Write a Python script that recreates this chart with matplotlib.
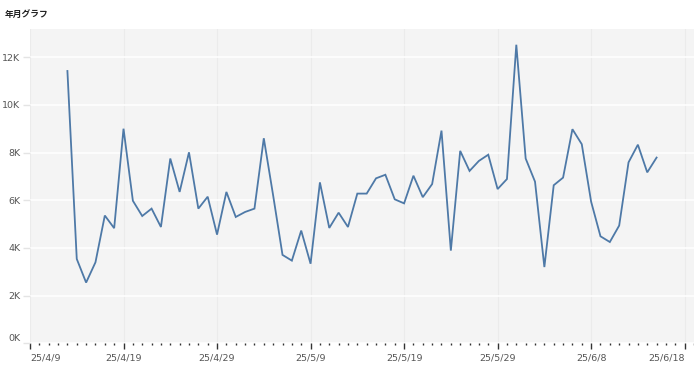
"""Daily line chart (年月グラフ) rebuilt with matplotlib."""

import matplotlib

matplotlib.use("Agg")
import matplotlib.dates as mdates
import matplotlib.pyplot as plt
from matplotlib.ticker import FuncFormatter
import pandas as pd

TITLE = "年月グラフ"
START_DATE = "2025-04-13"
VALUES = [
    11420, 3540, 2550, 3400, 5360, 4830, 9000, 5980, 5340, 5650,
    4880, 7750, 6350, 8010, 5650, 6150, 4560, 6350, 5300, 5510,
    5650, 8600, 6200, 3710, 3470, 4730, 3340, 6750, 4840, 5480,
    4880, 6280, 6280, 6920, 7070, 6040, 5870, 7030, 6130, 6680,
    8920, 3890, 8070, 7230, 7650, 7910, 6470, 6890, 12520, 7750,
    6780, 3200, 6630, 6950, 8980, 8350, 5940, 4490, 4250, 4940,
    7590, 8330, 7170, 7790,
]
Y_TICKS = [0, 2000, 4000, 6000, 8000, 10000, 12000]
X_MAJOR_TICKS = ["2025-04-09", "2025-04-19", "2025-04-29", "2025-05-09",
                 "2025-05-19", "2025-05-29", "2025-06-08", "2025-06-18"]

LINE_COLOR = "#4e79a7"
BG_COLOR = "#f4f4f4"
TEXT_COLOR = "#555555"

W, H = 694, 373


def main() -> None:
    plt.rcParams["font.family"] = ["DejaVu Sans", "Noto Sans CJK JP"]
    dates = pd.date_range(START_DATE, periods=len(VALUES), freq="D")

    fig = plt.figure(figsize=(W / 100, H / 100), dpi=100)
    ax = fig.add_axes([30 / W, (H - 343.4) / H, (W - 30) / W, (343.4 - 29) / H])
    ax.set_facecolor(BG_COLOR)
    for spine in ax.spines.values():
        spine.set_visible(False)

    ax.plot(dates, VALUES, color=LINE_COLOR, linewidth=1.3, solid_joinstyle="miter", zorder=3)

    ax.set_xlim(pd.Timestamp("2025-04-09"), pd.Timestamp("2025-04-09") + pd.Timedelta(days=71))
    ax.set_ylim(0, 13180)

    # y axis
    ax.set_yticks(Y_TICKS)
    ax.yaxis.set_major_formatter(FuncFormatter(lambda v, _: f"{int(round(v / 1000))}K"))
    ax.tick_params(axis="y", length=5, width=1, color="#e4e4e4", pad=2,
                   labelsize=6.8, labelcolor=TEXT_COLOR)
    ax.grid(axis="y", color="white", linewidth=1.1, zorder=1)
    ax.get_yticklabels()[0].set_verticalalignment("bottom")

    # x axis
    major = [pd.Timestamp(d) for d in X_MAJOR_TICKS]
    ax.set_xticks(major)
    ax.set_xticklabels([f"{d.year % 100}/{d.month}/{d.day}" for d in major])
    ax.xaxis.set_minor_locator(mdates.DayLocator())
    ax.tick_params(axis="x", which="major", length=4, width=1, color="#333333", pad=3.5,
                   labelsize=6.8, labelcolor=TEXT_COLOR)
    ax.tick_params(axis="x", which="minor", length=1.5, width=1, color="#333333")
    ax.grid(axis="x", which="major", color="#ebebeb", linewidth=0.8, zorder=1)
    ax.set_axisbelow(True)
    xlabels = ax.get_xticklabels()
    xlabels[0].set_horizontalalignment("left")
    xlabels[-1].set_horizontalalignment("right")

    fig.text(5 / W, 1 - 14 / H, TITLE, fontsize=6.3, fontweight="bold", color="#222222",
             va="center", ha="left", family=["Noto Sans CJK JP", "DejaVu Sans"])

    fig.savefig("out.png", dpi=100)
    plt.close(fig)


if __name__ == "__main__":
    main()
